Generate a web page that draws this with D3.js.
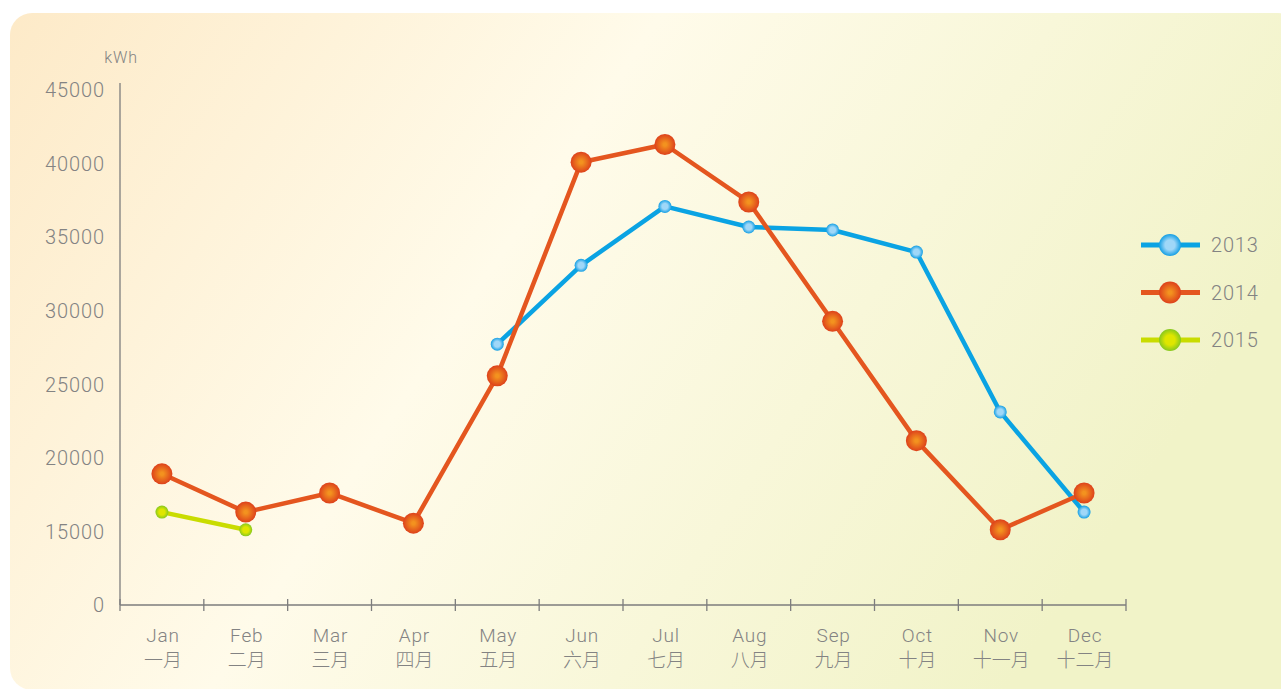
<!DOCTYPE html>
<html>
<head>
<meta charset="utf-8">
<script src="https://cdn.jsdelivr.net/npm/d3@7"></script>
<style>
  html, body { margin: 0; padding: 0; background: #fff; }
  svg { display: block; }
  text { font-family: Roboto, "Noto Sans CJK SC", sans-serif; font-weight: 300; fill: #838383; }
</style>
</head>
<body>
<svg id="chart" width="1281" height="689"></svg>
<script>
// month labels (english / chinese)
const monthsEn = ["Jan", "Feb", "Mar", "Apr", "May", "Jun", "Jul", "Aug", "Sep", "Oct", "Nov", "Dec"];
const monthsZh = ["一月", "二月", "三月", "四月", "五月", "六月", "七月", "八月", "九月", "十月", "十一月", "十二月"];

// kWh per month, null = no data
const values2013 = [null, null, null, null, 27750, 33100, 37100, 35700, 35500, 34000, 23150, 16350];
const values2014 = [18950, 16350, 17650, 15600, 25600, 40100, 41300, 37400, 29300, 21200, 15150, 17650];
const values2015 = [16350, 15150, null, null, null, null, null, null, null, null, null, null];

// y axis is broken: 0 sits right under 15000
const yTicks = [0, 15000, 20000, 25000, 30000, 35000, 40000, 45000];

const series = [
  {name: "2013", values: values2013, color: "#0aa3e3", c0: "#9fd7f8", c1: "#149fe4", hold: "45%", r: 6.5},
  {name: "2014", values: values2014, color: "#e4561f", c0: "#f3921f", c1: "#dd411b", hold: "15%", r: 10.5},
  {name: "2015", values: values2015, color: "#c9dc00", c0: "#dfe600", c1: "#86c81e", hold: "45%", r: 6.5}
];

const svg = d3.select("#chart");
const defs = svg.append("defs");

// background gradient
const bg = defs.append("linearGradient").attr("id", "bg")
  .attr("x1", 0).attr("y1", 0).attr("x2", 1).attr("y2", 0.35);
bg.append("stop").attr("offset", "0%").attr("stop-color", "#fdeac8");
bg.append("stop").attr("offset", "45%").attr("stop-color", "#fffbea");
bg.append("stop").attr("offset", "100%").attr("stop-color", "#f1f3c8");

svg.append("rect")
  .attr("x", 10).attr("y", 13)
  .attr("width", 1290).attr("height", 677)
  .attr("rx", 22)
  .attr("fill", "url(#bg)");

// marker gradients
series.forEach(s => {
  const g = defs.append("radialGradient").attr("id", "m" + s.name)
    .attr("cx", "50%").attr("cy", "50%").attr("r", "50%");
  g.append("stop").attr("offset", "0%").attr("stop-color", s.c0);
  g.append("stop").attr("offset", s.hold).attr("stop-color", s.c0);
  g.append("stop").attr("offset", "100%").attr("stop-color", s.c1);
});

const x = d3.scaleBand().domain(monthsEn).range([120, 1126]);
const y = d3.scaleLinear().domain([0, 15000, 45000]).range([605, 532, 90]);

const axisColor = "#7d7d7d";

// y axis
const yAxis = svg.append("g")
  .attr("transform", "translate(120,0)")
  .call(d3.axisLeft(y).tickValues(yTicks).tickFormat(d3.format("d")).tickSize(0).tickPadding(15));
yAxis.select(".domain").remove();
yAxis.selectAll("text")
  .attr("font-size", 20).attr("letter-spacing", 0.9)
  .attr("font-family", "Roboto, sans-serif").attr("fill", "#838383");

svg.append("line")
  .attr("x1", 120).attr("x2", 120)
  .attr("y1", y.range()[2] - 7).attr("y2", y.range()[0])
  .attr("stroke", axisColor).attr("stroke-width", 1.3);

svg.append("text")
  .attr("x", 121).attr("y", 63)
  .attr("text-anchor", "middle")
  .attr("font-size", 16).attr("letter-spacing", 0.9)
  .text("kWh");

// x axis
const y0 = y(0);
svg.append("line")
  .attr("x1", x.range()[0]).attr("x2", x.range()[1])
  .attr("y1", y0).attr("y2", y0)
  .attr("stroke", axisColor).attr("stroke-width", 1.3);

svg.append("g").selectAll("line")
  .data(d3.range(monthsEn.length + 1))
  .join("line")
  .attr("x1", i => x.range()[0] + i * x.step())
  .attr("x2", i => x.range()[0] + i * x.step())
  .attr("y1", y0 - 6).attr("y2", y0 + 6)
  .attr("stroke", axisColor).attr("stroke-width", 1.3);

const xl = svg.append("g").selectAll("text")
  .data(monthsEn)
  .join("text")
  .attr("text-anchor", "middle")
  .attr("font-size", 19);
xl.append("tspan")
  .attr("x", d => x(d) + x.bandwidth() / 2 + 1)
  .attr("y", 642)
  .attr("letter-spacing", 0.8)
  .text(d => d);
xl.append("tspan")
  .attr("x", d => x(d) + x.bandwidth() / 2 + 1)
  .attr("y", 667)
  .attr("font-family", "'Noto Sans CJK SC', sans-serif")
  .text((d, i) => monthsZh[i]);

// lines + markers
const cx = (d, i) => x(monthsEn[i]) + x.bandwidth() / 2;
const line = d3.line()
  .defined(d => d != null)
  .x((d, i) => cx(d, i))
  .y(d => y(d));

series.forEach(s => {
  const g = svg.append("g");
  g.append("path")
    .datum(s.values)
    .attr("d", line)
    .attr("fill", "none")
    .attr("stroke", s.color)
    .attr("stroke-width", 4.5)
    .attr("stroke-linejoin", "round");
  g.selectAll("circle")
    .data(s.values.map((v, i) => ({v, i})).filter(d => d.v != null))
    .join("circle")
    .attr("cx", d => cx(d.v, d.i))
    .attr("cy", d => y(d.v))
    .attr("r", s.r)
    .attr("fill", "url(#m" + s.name + ")");
});

// legend
const legend = svg.append("g").selectAll("g")
  .data(series)
  .join("g")
  .attr("transform", (d, i) => `translate(1141,${245 + i * 47.5})`);
legend.append("line")
  .attr("x1", 0).attr("x2", 59)
  .attr("stroke", d => d.color).attr("stroke-width", 5);
legend.append("circle")
  .attr("cx", 29).attr("r", 11)
  .attr("fill", d => "url(#m" + d.name + ")");
legend.append("text")
  .attr("x", 70).attr("dy", "0.36em")
  .attr("font-size", 20).attr("letter-spacing", 0.8)
  .text(d => d.name);
</script>
</body>
</html>
